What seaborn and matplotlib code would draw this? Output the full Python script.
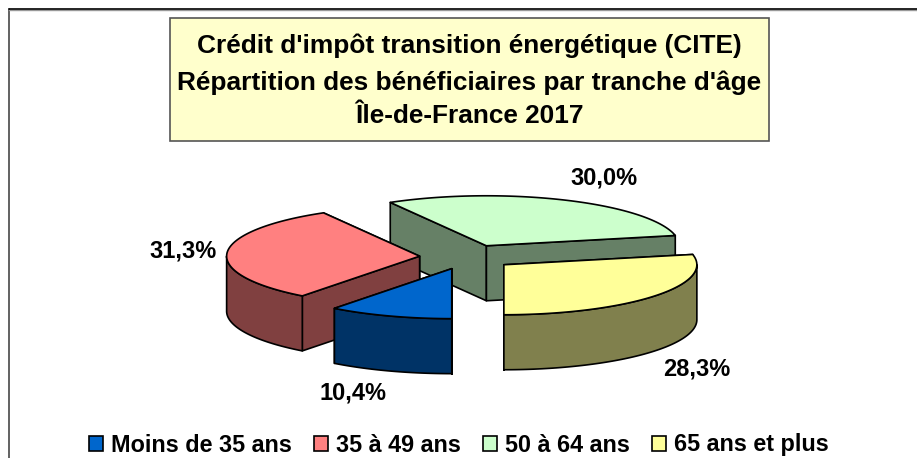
import numpy as np
import matplotlib
matplotlib.use("Agg")
import matplotlib.pyplot as plt
from matplotlib.patches import Patch, Polygon, Rectangle
import seaborn as sns

categories = ["Moins de 35 ans", "35 à 49 ans", "50 à 64 ans", "65 ans et plus"]
shares = [10.4, 31.3, 30.0, 28.3]
share_labels = ["10,4%", "31,3%", "30,0%", "28,3%"]
title_lines = ["Crédit d'impôt transition énergétique (CITE)",
               "Répartition des bénéficiaires par tranche d'âge",
               "Île-de-France 2017"]

sns.set_theme(style="white")
plt.rcParams['font.family'] = ['Liberation Sans', 'DejaVu Sans']
palette = sns.color_palette(["#0066CC", "#FF8080", "#CCFFCC", "#FFFF99"])

# pie layout, in pixels of the picture
cx, cy = 467, 257
rx, ry = 193, 50
depth = 55
explode = 0.246
start_angle = 270


def rim(cen, a0, a1, drop=0):
    t = np.radians(np.linspace(a0, a1, 80))
    return np.column_stack([cen[0] + rx * np.cos(t), cen[1] - ry * np.sin(t) + drop])


fig = plt.figure(figsize=(9.17, 4.58), dpi=100)
ax = fig.add_axes([0, 0, 1, 1])
ax.set_xlim(0, 917)
ax.set_ylim(458, 0)
ax.axis("off")

# chart frame, open on the right and at the bottom
ax.plot([8.5, 8.5], [458, 9], color="#555555", lw=1.3)
ax.plot([8.5, 917], [9.8, 9.8], color="#999999", lw=1)
ax.plot([8.5, 917], [8.5, 8.5], color="black", lw=1.2)

# title box
ax.add_patch(Rectangle((169.5, 18), 599, 123, fc="#FFFFCC", ec="#555555", lw=1.2))
for line, y in zip(title_lines, [46, 83, 116]):
    ax.text(469.5, y, line, ha="center", va="center", fontsize=18.9, fontweight="bold", color="black")

# slices run clockwise from 6 o'clock, back ones are painted first
edges = start_angle - np.cumsum([0] + [s * 3.6 for s in shares])
for i in [2, 1, 0, 3]:
    a0, a1 = edges[i + 1], edges[i]
    mid = np.radians((a0 + a1) / 2)
    cen = (cx + explode * rx * np.cos(mid), cy - explode * ry * np.sin(mid))
    side = tuple(c * 0.5 for c in palette[i])

    walls = []
    for a in (a0, a1):
        p = rim(cen, a, a)[0]
        walls.append(np.array([cen, p, p + [0, depth], (cen[0], cen[1] + depth)]))
    # only the front half of the outer wall shows
    lo, hi = max(a0, -180), min(a1, 0)
    if a0 >= 0 or a1 > 180:
        lo, hi = max(a0, 180), min(a1, 360)
    if hi > lo:
        walls.append(np.vstack([rim(cen, lo, hi), rim(cen, hi, lo, depth)]))
    for w in sorted(walls, key=lambda q: q[:, 1].mean()):
        ax.add_patch(Polygon(w, closed=True, fc=side, ec="black", lw=1.2, joinstyle="round"))

    top = np.vstack([[cen], rim(cen, a0, a1)])
    ax.add_patch(Polygon(top, closed=True, fc=palette[i], ec="black", lw=1.2, joinstyle="round"))

for txt, (x, y) in zip(share_labels, [(353, 393), (183, 251), (604, 178), (697, 369)]):
    ax.text(x, y, txt, ha="center", va="center", fontsize=17, fontweight="bold", color="black")

handles = [Patch(fc=c, ec="black", lw=1.2, label=n) for c, n in zip(palette, categories)]
ax.legend(handles=handles, ncol=4, loc="center", bbox_to_anchor=(459 / 917, 1 - 445 / 458),
          frameon=False, prop={"size": 16.8, "weight": "bold"}, labelcolor="black",
          handlelength=0.6, handleheight=0.6, handletextpad=0.34, columnspacing=0.96,
          borderpad=0, borderaxespad=0)

plt.savefig("out.png", dpi=100)
